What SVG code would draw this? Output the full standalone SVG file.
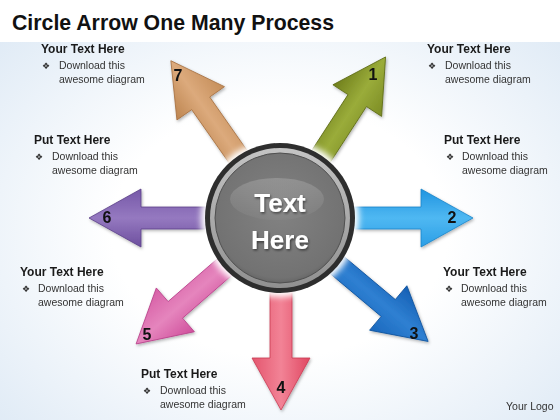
<svg xmlns="http://www.w3.org/2000/svg" width="560" height="420" viewBox="0 0 560 420">
<defs>
<style>
.title{font-family:"Liberation Sans",Arial,sans-serif;font-weight:bold;font-size:22px;fill:#111}
.hd{font-family:"Liberation Sans",Arial,sans-serif;font-weight:bold;font-size:12px;fill:#1a1a1a}
.bd{font-family:"Liberation Sans",Arial,sans-serif;font-size:10.5px;fill:#333}
.bl{font-family:"DejaVu Sans",sans-serif;font-size:9px;fill:#333}
.num{font-family:"Liberation Sans",Arial,sans-serif;font-weight:bold;font-size:16px;fill:#111;text-anchor:middle}
.ctr{font-family:"Liberation Sans",Arial,sans-serif;font-weight:bold;font-size:26px;fill:#fff;text-anchor:middle}
.arr{stroke-width:0.8}
</style>
<radialGradient id="bg" cx="0.5" cy="0.55" r="0.75">
<stop offset="0.4" stop-color="#ffffff"/>
<stop offset="1" stop-color="#dae7f4"/>
</radialGradient>
<linearGradient id="g1" x1="0" y1="0" x2="0" y2="1"><stop offset="0" stop-color="#6f7e1c"/><stop offset="0.5" stop-color="#9aac3a"/><stop offset="1" stop-color="#7c8c24"/></linearGradient>
<linearGradient id="g2" x1="0" y1="0" x2="0" y2="1"><stop offset="0" stop-color="#1f94e0"/><stop offset="0.5" stop-color="#4fb8f2"/><stop offset="1" stop-color="#2a9ee6"/></linearGradient>
<linearGradient id="g3" x1="0" y1="0" x2="0" y2="1"><stop offset="0" stop-color="#145fb4"/><stop offset="0.5" stop-color="#2f80d2"/><stop offset="1" stop-color="#1a68bd"/></linearGradient>
<linearGradient id="g4" x1="0" y1="0" x2="0" y2="1"><stop offset="0" stop-color="#e04862"/><stop offset="0.5" stop-color="#f28396"/><stop offset="1" stop-color="#e4566e"/></linearGradient>
<linearGradient id="g5" x1="0" y1="0" x2="0" y2="1"><stop offset="0" stop-color="#d04f9c"/><stop offset="0.5" stop-color="#e585bd"/><stop offset="1" stop-color="#d75fa6"/></linearGradient>
<linearGradient id="g6" x1="0" y1="0" x2="0" y2="1"><stop offset="0" stop-color="#6d4f9e"/><stop offset="0.5" stop-color="#9579c0"/><stop offset="1" stop-color="#7658a8"/></linearGradient>
<linearGradient id="g7" x1="0" y1="0" x2="0" y2="1"><stop offset="0" stop-color="#bd8550"/><stop offset="0.5" stop-color="#dcaa7c"/><stop offset="1" stop-color="#c58e5a"/></linearGradient>
<radialGradient id="inner" cx="0.5" cy="0.45" r="0.6">
<stop offset="0" stop-color="#828282"/>
<stop offset="0.85" stop-color="#727272"/>
<stop offset="1" stop-color="#5a5a5a"/>
</radialGradient>
<linearGradient id="silver" x1="0" y1="0" x2="0" y2="1">
<stop offset="0" stop-color="#c4c4c4"/><stop offset="1" stop-color="#909090"/>
</linearGradient>
<linearGradient id="hl" x1="0" y1="0" x2="0" y2="1">
<stop offset="0" stop-color="#fff" stop-opacity="0.18"/><stop offset="1" stop-color="#fff" stop-opacity="0.03"/>
</linearGradient>
<filter id="sh" x="-20%" y="-20%" width="140%" height="140%">
<feDropShadow dx="1" dy="1.5" stdDeviation="1.5" flood-color="#000" flood-opacity="0.3"/>
</filter>
<filter id="glow" x="-20%" y="-20%" width="140%" height="140%">
<feGaussianBlur stdDeviation="3"/>
</filter>
<filter id="tsh" x="-10%" y="-10%" width="120%" height="130%">
<feDropShadow dx="1" dy="1.5" stdDeviation="0.8" flood-color="#000" flood-opacity="0.5"/>
</filter>
<path id="arrow" d="M0,-11 L140,-11 L140,-29 L192,0 L140,29 L140,11 L0,11 Z"/>
</defs>

<rect width="560" height="420" fill="url(#bg)"/>
<rect width="560" height="42" fill="#fff"/>
<text class="title" x="12" y="30" textLength="322" lengthAdjust="spacingAndGlyphs">Circle Arrow One Many Process</text>

<g id="connectors" filter="url(#sh)">
<use href="#arrow" class="arr" transform="translate(281,218) rotate(-57)" fill="url(#g1)" stroke="#5f6c18"/>
<use href="#arrow" class="arr" transform="translate(281,218)" fill="url(#g2)" stroke="#1a84c8"/>
<use href="#arrow" class="arr" transform="translate(281,218) rotate(40)" fill="url(#g3)" stroke="#10529c"/>
<use href="#arrow" class="arr" transform="translate(281,218) rotate(90)" fill="url(#g4)" stroke="#c83a52"/>
<use href="#arrow" class="arr" transform="translate(281,218) rotate(139)" fill="url(#g5)" stroke="#b8408a"/>
<use href="#arrow" class="arr" transform="translate(281,218) rotate(180)" fill="url(#g6)" stroke="#5a3f88"/>
<use href="#arrow" class="arr" transform="translate(281,218) rotate(-125)" fill="url(#g7)" stroke="#a87244"/>
</g>

<g id="n1"><text class="num" x="373" y="80">1</text></g>
<g id="n2"><text class="num" x="452" y="223">2</text></g>
<g id="n3"><text class="num" x="414" y="339">3</text></g>
<g id="n4"><text class="num" x="281" y="393">4</text></g>
<g id="n5"><text class="num" x="147" y="340">5</text></g>
<g id="n6"><text class="num" x="107" y="223">6</text></g>
<g id="n7"><text class="num" x="178" y="81">7</text></g>

<g id="center">
<circle cx="280" cy="218" r="79" fill="#fff" filter="url(#glow)"/>
<circle cx="280" cy="218" r="75" fill="#2e2e2e"/>
<circle cx="280" cy="218" r="70" fill="url(#silver)"/>
<circle cx="280" cy="218" r="65" fill="url(#inner)" stroke="#505050" stroke-width="1"/>
<ellipse cx="277" cy="199" rx="47" ry="21" fill="url(#hl)"/>
<text class="ctr" x="280" y="212" filter="url(#tsh)">Text</text>
<text class="ctr" x="280" y="249" filter="url(#tsh)">Here</text>
</g>

<g id="t7">
<text class="hd" x="41" y="53">Your Text Here</text>
<text class="bl" x="42" y="69">❖</text>
<text class="bd" x="59" y="69">Download this</text>
<text class="bd" x="59" y="83">awesome diagram</text>
</g>
<g id="t1">
<text class="hd" x="427" y="53">Your Text Here</text>
<text class="bl" x="428" y="69">❖</text>
<text class="bd" x="445" y="69">Download this</text>
<text class="bd" x="445" y="83">awesome diagram</text>
</g>
<g id="t6">
<text class="hd" x="34" y="144">Put Text Here</text>
<text class="bl" x="35" y="160">❖</text>
<text class="bd" x="52" y="160">Download this</text>
<text class="bd" x="52" y="174">awesome diagram</text>
</g>
<g id="t2">
<text class="hd" x="444" y="144">Put Text Here</text>
<text class="bl" x="446" y="160">❖</text>
<text class="bd" x="462" y="160">Download this</text>
<text class="bd" x="462" y="174">awesome diagram</text>
</g>
<g id="t5">
<text class="hd" x="20" y="276">Your Text Here</text>
<text class="bl" x="22" y="292">❖</text>
<text class="bd" x="38" y="292">Download this</text>
<text class="bd" x="38" y="306">awesome diagram</text>
</g>
<g id="t3">
<text class="hd" x="443" y="276">Your Text Here</text>
<text class="bl" x="445" y="292">❖</text>
<text class="bd" x="461" y="292">Download this</text>
<text class="bd" x="461" y="306">awesome diagram</text>
</g>
<g id="t4">
<text class="hd" x="141" y="378">Put Text Here</text>
<text class="bl" x="143" y="394">❖</text>
<text class="bd" x="160" y="394">Download this</text>
<text class="bd" x="160" y="408">awesome diagram</text>
</g>
<text class="bd" x="506" y="410" font-size="10">Your Logo</text>
</svg>
